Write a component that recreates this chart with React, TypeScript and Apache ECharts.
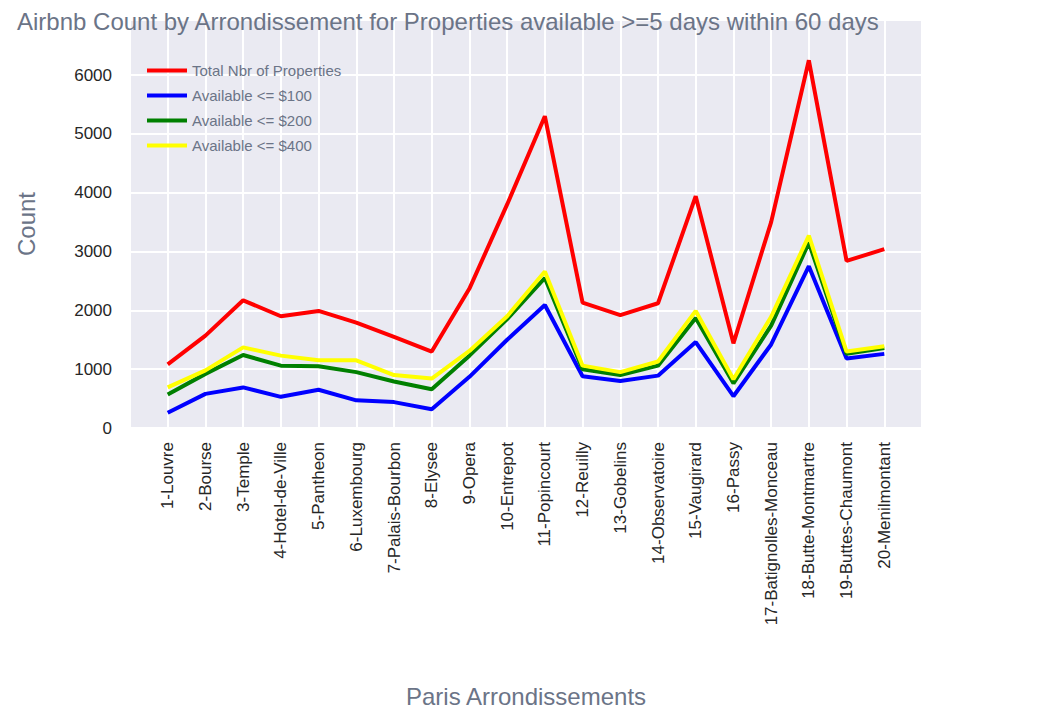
import { useEffect, useRef } from 'react'
import * as echarts from 'echarts'

const districts = ['1-Louvre', '2-Bourse', '3-Temple', '4-Hotel-de-Ville', '5-Pantheon', '6-Luxembourg', '7-Palais-Bourbon', '8-Elysee', '9-Opera', '10-Entrepot', '11-Popincourt', '12-Reuilly', '13-Gobelins', '14-Observatoire', '15-Vaugirard', '16-Passy', '17-Batignolles-Monceau', '18-Butte-Montmartre', '19-Buttes-Chaumont', '20-Menilmontant']
const totalProps = [1080, 1570, 2170, 1900, 1990, 1790, 1550, 1300, 2370, 3800, 5300, 2130, 1920, 2120, 3940, 1440, 3500, 6250, 2840, 3040]
const avail100 = [260, 580, 690, 530, 650, 470, 440, 320, 870, 1500, 2090, 880, 800, 890, 1460, 540, 1420, 2750, 1180, 1260]
const avail200 = [570, 920, 1240, 1060, 1050, 950, 790, 660, 1230, 1850, 2550, 1000, 900, 1060, 1870, 760, 1740, 3150, 1260, 1360]
const avail400 = [690, 980, 1370, 1230, 1150, 1150, 900, 840, 1310, 1900, 2660, 1060, 950, 1130, 1990, 830, 1890, 3270, 1300, 1390]

const FONT = 'Liberation Sans, Arial, sans-serif'
const GRAY = '#6b7487'

const toPairs = (arr: number[]) => arr.map((v, i) => [i, v])

const App: React.FC = () => {
  const chartRef = useRef<HTMLDivElement>(null)
  useEffect(() => {
    if (!chartRef.current) return
    const chart = echarts.init(chartRef.current, undefined, { renderer: 'svg' })
    const mk = (name: string, color: string, data: number[]) => ({
      name, type: 'line' as const, data: toPairs(data), showSymbol: false,
      lineStyle: { color, width: 4 }, itemStyle: { color }
    })
    chart.setOption({
      animation: false,
      textStyle: { fontFamily: FONT },
      title: {
        text: 'Airbnb Count by Arrondissement for Properties available >=5 days within 60 days',
        left: 12, top: 4,
        textStyle: { fontSize: 24, fontWeight: 'normal', color: GRAY, fontFamily: FONT }
      },
      grid: { left: 130, right: 130, top: 20, bottom: 298, show: true, backgroundColor: '#eaeaf2', borderWidth: 0 },
      legend: {
        orient: 'vertical', left: 142, top: 58, itemGap: 10, itemWidth: 40, itemHeight: 4,
        icon: 'rect',
        textStyle: { color: GRAY, fontSize: 15, fontFamily: FONT },
        data: ['Total Nbr of Properties', 'Available <= $100', 'Available <= $200', 'Available <= $400']
      },
      xAxis: {
        type: 'value', min: -1, max: 20, interval: 1,
        name: 'Paris Arrondissements', nameLocation: 'middle', nameGap: 256,
        nameTextStyle: { fontSize: 24, color: GRAY },
        axisLine: { show: false }, axisTick: { show: false },
        splitLine: { lineStyle: { color: '#fff', width: 2 } },
        axisLabel: {
          rotate: 90, fontSize: 17, color: '#262626', margin: 14,
          formatter: (v: number) => districts[v] ?? ''
        }
      },
      yAxis: {
        type: 'value', min: 0, max: 6935, interval: 1000,
        name: 'Count', nameLocation: 'middle', nameGap: 92,
        nameTextStyle: { fontSize: 24, color: GRAY },
        axisLine: { show: false }, axisTick: { show: false },
        splitLine: { lineStyle: { color: '#fff', width: 2 } },
        axisLabel: { fontSize: 17, color: '#262626', margin: 18, showMaxLabel: false, formatter: (v: number) => String(v) }
      },
      series: [
        mk('Total Nbr of Properties', '#ff0000', totalProps),
        mk('Available <= $100', '#0000ff', avail100),
        mk('Available <= $200', '#008000', avail200),
        mk('Available <= $400', '#ffff00', avail400)
      ]
    })
    return () => chart.dispose()
  }, [])
  return <div ref={chartRef} style={{ position: 'fixed', left: 0, top: 0, width: '1052px', height: '726px', background: '#fff' }} />
}

export default App
